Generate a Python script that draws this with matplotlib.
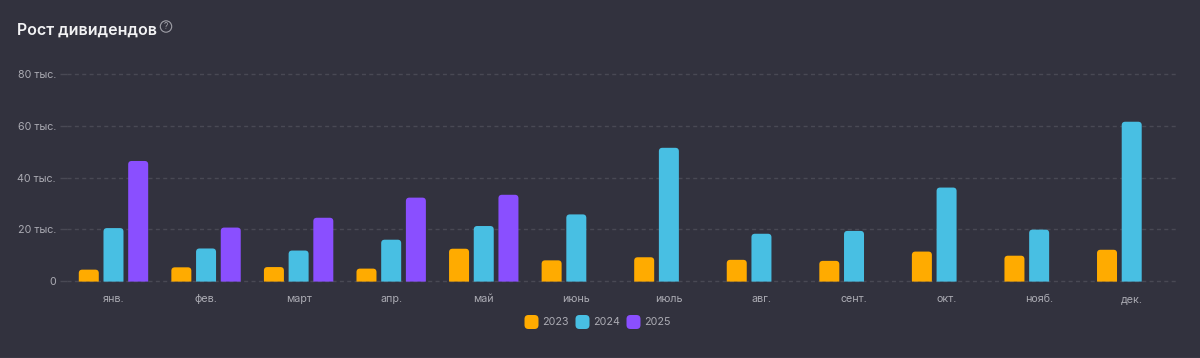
#!/usr/bin/env python3
# -*- coding: utf-8 -*-
import numpy as np
import matplotlib
matplotlib.use('Agg')
import matplotlib.pyplot as plt
from matplotlib.patches import FancyBboxPatch, PathPatch, Circle
from matplotlib.path import Path
from matplotlib.transforms import Affine2D

months = ['янв.', 'фев.', 'март', 'апр.', 'май', 'июнь', 'июль', 'авг.', 'сент.', 'окт.', 'нояб.', 'дек.']
vals_2023 = [4.4, 5.3, 5.4, 4.8, 12.5, 8.0, 9.2, 8.2, 7.8, 11.4, 9.8, 12.1]
vals_2024 = [20.5, 12.6, 11.8, 16.0, 21.3, 25.8, 51.6, 18.3, 19.4, 36.2, 19.9, 61.7]
vals_2025 = [46.5, 20.7, 24.5, 32.3, 33.4]
yticks = [0, 20, 40, 60, 80]
ylabels = ['0', '20 тыс.', '40 тыс.', '60 тыс.', '80 тыс.']
years = ['2023', '2024', '2025']

BG = '#32323E'
ORANGE = '#FFAB00'
BLUE = '#48BFE3'
PURPLE = '#8A4FFF'
GRID = '#494954'
LABEL = '#ABABB3'

W, H = 1200, 358
plt.rcParams['font.family'] = ['Inter', 'DejaVu Sans']

fig = plt.figure(figsize=(W/100, H/100), dpi=100, facecolor=BG)
left, right, top, bottom = 67.2, 1178, 74.5, 281
ax = fig.add_axes([left/W, 1-bottom/H, (right-left)/W, (bottom-top)/H], facecolor=BG)
ax.set_xlim(-0.5, 11.5)
ax.set_ylim(0, 80)

px_x = 12/(right-left)
px_y = 80/(bottom-top)


def rounded_bar(x, w, h, color, r=3.5):
    # bar with rounded top corners, built in data units
    rx, ry = r*px_x, min(r*px_y, h)
    x0, x1 = x-w/2, x+w/2
    base = -0.6*px_y  # covers the dashed zero line under the bar
    verts = [(x0, base), (x0, h-ry), (x0, h), (x0+rx, h), (x1-rx, h), (x1, h), (x1, h-ry), (x1, base), (x0, base)]
    codes = [Path.MOVETO, Path.LINETO, Path.CURVE3, Path.CURVE3, Path.LINETO, Path.CURVE3, Path.CURVE3, Path.LINETO, Path.CLOSEPOLY]
    ax.add_patch(PathPatch(Path(verts, codes), facecolor=color, edgecolor='none', zorder=3, clip_on=False))


bar_w = 20*px_x
step = 24.7*px_x
for i, v in enumerate(vals_2023):
    rounded_bar(i-step, bar_w, v, ORANGE)
for i, v in enumerate(vals_2024):
    rounded_bar(i, bar_w, v, BLUE)
for i, v in enumerate(vals_2025):
    rounded_bar(i+step, bar_w, v, PURPLE)

ax.set_yticks(yticks)
ax.set_yticklabels(ylabels)
ax.set_xticks(np.arange(len(months)))
ax.set_xticklabels(months, va='baseline')
ax.tick_params(axis='y', length=5, width=1, color=GRID, pad=3, labelsize=7.7, labelcolor=LABEL)
ax.tick_params(axis='x', length=0, pad=15.1, labelsize=7.7, labelcolor=LABEL)
ax.set_axisbelow(True)
ax.grid(axis='y', color=GRID, linewidth=1, linestyle=(0, (2.9, 2.4)))
for ygrid in ax.yaxis.get_gridlines():
    ygrid.set_clip_on(False)
for s in ax.spines.values():
    s.set_visible(False)

# everything outside the axes is placed in pixels, y measured from the top
px = Affine2D().scale(1, -1).translate(0, H) + fig.dpi_scale_trans.inverted().frozen() + fig.dpi_scale_trans
fig.text(17/W, 1-30.5/H, 'Рост дивидендов', color='#F2F2F4', fontsize=11.5, fontweight='semibold', va='center', ha='left')
fig.add_artist(Circle((166, 26.5), 5.7, transform=px, facecolor='none', edgecolor='#A0A0A8', linewidth=0.8))
fig.text(166/W, 1-26.7/H, '?', color='#A0A0A8', fontsize=6, va='center', ha='center')

for x, c, lab in zip([524.5, 575.5, 626.5], [ORANGE, BLUE, PURPLE], years):
    fig.add_artist(FancyBboxPatch((x+4, 319), 6, 6, boxstyle='round,pad=4,rounding_size=4', transform=px, facecolor=c, edgecolor='none'))
    fig.text((x+18)/W, 1-322/H, lab, color=LABEL, fontsize=7.7, va='center', ha='left')

# thin lighter line along the bottom edge
fig.add_artist(plt.Line2D([0, W], [357.5, 357.5], transform=px, color='#55555F', linewidth=1))

plt.savefig('out.png', dpi=100, facecolor=BG)
